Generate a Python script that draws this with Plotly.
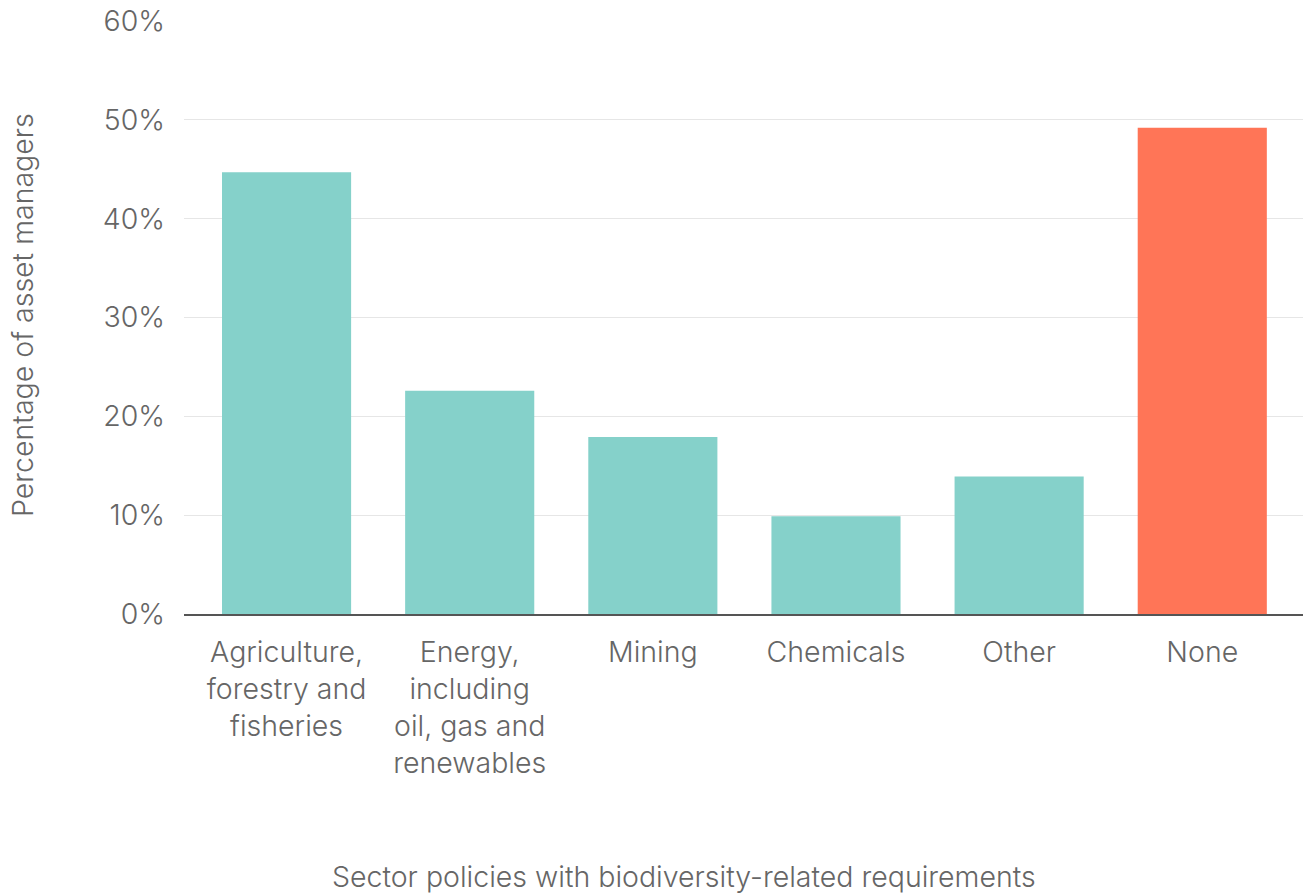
import plotly.graph_objects as go

categories = [
    "Agriculture,<br>forestry and<br>fisheries",
    "Energy,<br>including<br>oil, gas and<br>renewables",
    "Mining",
    "Chemicals",
    "Other",
    "None",
]
values = [44.7, 22.6, 17.9, 9.9, 13.9, 49.2]
bar_colors = ["#85D1CA", "#85D1CA", "#85D1CA", "#85D1CA", "#85D1CA", "#FF7557"]
y_ticks = [0, 10, 20, 30, 40, 50, 60]
y_tick_labels = ["0%", "10%", "20%", "30%", "40%", "50%", "60%"]

FONT = "Inter"
GREY = "#666666"
FS = 28.5

fig = go.Figure(
    go.Bar(
        x=list(range(len(categories))),
        y=values,
        marker=dict(color=bar_colors, line=dict(width=0)),
        width=0.705,
        hoverinfo="skip",
    )
)

fig.update_layout(
    width=1303,
    height=895,
    margin=dict(l=184, r=0, t=21, b=281),
    paper_bgcolor="white",
    plot_bgcolor="white",
    font=dict(family=FONT, color=GREY, size=FS, weight=300),
    showlegend=False,
    xaxis=dict(
        range=[-0.56, 5.55],
        tickmode="array",
        tickvals=list(range(len(categories))),
        ticktext=categories,
        showgrid=False,
        zeroline=False,
        showline=True,
        linecolor="#555555",
        linewidth=1.5,
        ticks="",
        ticklabelstandoff=12,
        tickfont=dict(family=FONT, size=FS, color=GREY, weight=300),
        fixedrange=True,
    ),
    yaxis=dict(
        range=[0, 60],
        tickmode="array",
        tickvals=y_ticks,
        ticktext=y_tick_labels,
        showgrid=True,
        gridcolor="#E6E6E6",
        gridwidth=1,
        zeroline=False,
        showline=False,
        ticks="",
        ticklabelstandoff=18,
        tickfont=dict(family=FONT, size=FS, color=GREY, weight=300),
        fixedrange=True,
    ),
    annotations=[
        dict(
            text="Percentage of asset managers",
            xref="paper", yref="paper",
            x=-184 / 1119 + 22 / 1119, y=(614 - 315) / 593,
            xanchor="center", yanchor="middle",
            textangle=-90, showarrow=False,
            font=dict(family=FONT, size=FS, color=GREY, weight=300),
        ),
        dict(
            text="Sector policies with biodiversity-related requirements",
            xref="paper", yref="paper",
            x=(684 - 184) / 1119, y=-(876 - 614) / 593,
            xanchor="center", yanchor="middle",
            showarrow=False,
            font=dict(family=FONT, size=FS, color=GREY, weight=300),
        ),
    ],
)

fig.write_html("out.html")
